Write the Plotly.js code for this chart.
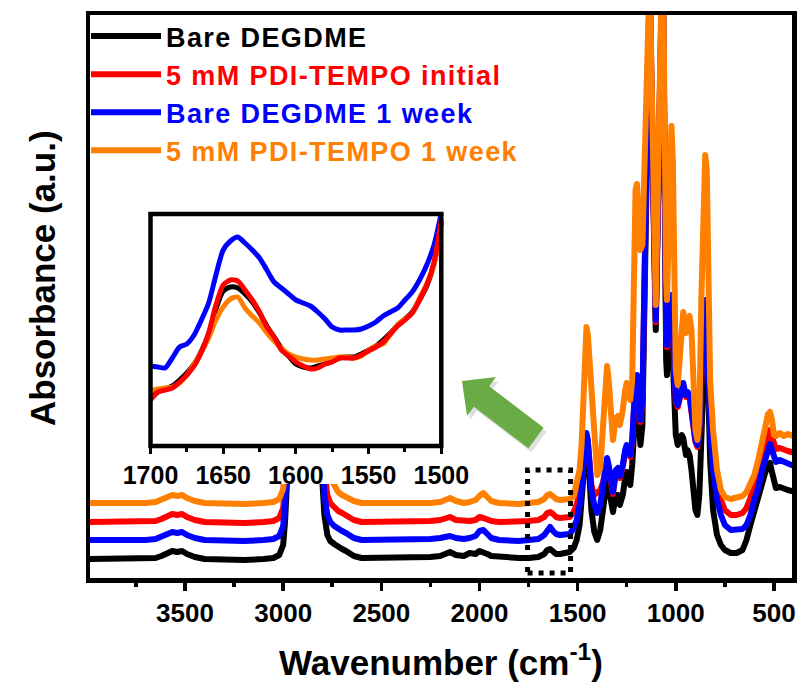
<!DOCTYPE html>
<html>
<head>
<meta charset="utf-8">
<script src="https://cdn.plot.ly/plotly-3.0.1.min.js"></script>
<style>
  html, body { margin: 0; padding: 0; background: #ffffff; }
  #chart { width: 799px; height: 684px; }
  .js-line { stroke-linejoin: round !important; }
  .legendtext { letter-spacing: 1.4px; }
</style>
</head>
<body>
<div id="chart"></div>
<script>
// FTIR spectra (offset for clarity), wavenumber in cm-1
const wavenumber = [
  4000, 3900, 3800, 3700, 3650, 3620, 3590, 3565, 3540, 3515,
  3490, 3450, 3400, 3300, 3200, 3100, 3050, 3020, 3000, 2990,
  2980, 2965, 2950, 2930, 2910, 2890, 2870, 2850, 2830, 2815,
  2800, 2790, 2775, 2760, 2740, 2720, 2700, 2680, 2660, 2640,
  2600, 2500, 2400, 2300, 2250, 2200, 2170, 2150, 2120, 2080,
  2050, 2020, 2000, 1980, 1960, 1940, 1900, 1850, 1800, 1750,
  1700, 1670, 1655, 1640, 1625, 1610, 1590, 1560, 1540, 1520,
  1505, 1490, 1480, 1470, 1462, 1455, 1448, 1440, 1430, 1415,
  1400, 1385, 1370, 1358, 1350, 1342, 1330, 1320, 1305, 1295,
  1285, 1270, 1258, 1250, 1242, 1232, 1222, 1212, 1205, 1198,
  1190, 1180, 1170, 1158, 1133, 1102, 1067, 1049, 1045, 1038,
  1030, 1022, 1015, 1008, 1000, 990, 980, 970, 962, 955,
  948, 940, 930, 920, 910, 900, 890, 880, 870, 860,
  850, 842, 835, 825, 810, 790, 770, 750, 720, 690,
  660, 640, 620, 600, 580, 560, 545, 530, 520, 510,
  500, 490, 470, 450, 430, 410, 400
];

const bareDegdme = [
  0.19, 0.19, 0.19, 0.19, 0.20, 0.22, 0.25, 0.27, 0.26, 0.27,
  0.24, 0.21, 0.19, 0.18, 0.18, 0.19, 0.20, 0.23, 0.33, 0.58,
  0.98, 1.98, 2.78, 2.98, 2.68, 3.08, 3.18, 2.58, 1.98, 1.38,
  0.91, 0.63, 0.43, 0.37, 0.34, 0.31, 0.29, 0.27, 0.24, 0.22,
  0.20, 0.20, 0.20, 0.20, 0.21, 0.22, 0.25, 0.26, 0.23, 0.22,
  0.25, 0.24, 0.27, 0.26, 0.24, 0.22, 0.21, 0.20, 0.20, 0.20,
  0.21, 0.24, 0.28, 0.29, 0.26, 0.24, 0.24, 0.25, 0.26, 0.30,
  0.38, 0.53, 0.73, 1.03, 1.28, 1.38, 1.28, 1.00, 0.68, 0.46,
  0.38, 0.48, 0.73, 0.93, 0.98, 0.91, 0.73, 0.66, 0.83, 0.83,
  0.73, 0.83, 1.00, 1.06, 1.00, 0.93, 1.13, 1.53, 1.73, 1.78,
  1.58, 1.33, 1.53, 2.78, 5.78, 2.48, 6.18, 2.18, 2.03, 2.28,
  2.48, 2.53, 2.18, 1.68, 1.43, 1.33, 1.38, 1.43, 1.40, 1.30,
  1.23, 1.28, 1.23, 1.08, 0.83, 0.68, 0.63, 0.83, 1.38, 2.28,
  2.53, 2.43, 1.88, 1.18, 0.68, 0.43, 0.33, 0.28, 0.25, 0.25,
  0.28, 0.38, 0.53, 0.68, 0.81, 0.93, 1.05, 1.13, 1.15, 1.06,
  0.95, 0.90, 0.91, 0.89, 0.88, 0.87, 0.87
];

const pdiTempoInitial = [
  0.56, 0.56, 0.56, 0.56, 0.57, 0.59, 0.62, 0.64, 0.63, 0.64,
  0.61, 0.58, 0.56, 0.55, 0.55, 0.56, 0.57, 0.60, 0.70, 0.93,
  1.30, 2.20, 2.93, 3.13, 2.90, 3.22, 3.32, 2.80, 2.26, 1.66,
  1.23, 1.03, 0.83, 0.75, 0.70, 0.67, 0.65, 0.63, 0.60, 0.58,
  0.56, 0.56, 0.56, 0.57, 0.57, 0.58, 0.59, 0.61, 0.58, 0.57,
  0.57, 0.58, 0.61, 0.60, 0.58, 0.57, 0.56, 0.56, 0.56, 0.57,
  0.58, 0.61, 0.65, 0.66, 0.64, 0.61, 0.60, 0.60, 0.61, 0.66,
  0.73, 0.86, 1.00, 1.20, 1.38, 1.43, 1.36, 1.11, 0.93, 0.83,
  0.86, 0.88, 0.96, 1.14, 1.18, 1.11, 0.91, 0.84, 1.06, 1.08,
  1.00, 1.11, 1.26, 1.31, 1.26, 1.21, 1.36, 1.76, 1.96, 2.01,
  1.81, 1.56, 1.76, 2.96, 5.96, 2.56, 6.36, 2.46, 2.31, 2.56,
  2.76, 2.81, 2.46, 1.96, 1.76, 1.71, 1.81, 1.91, 1.93, 1.86,
  1.81, 1.84, 1.81, 1.66, 1.46, 1.36, 1.31, 1.46, 1.96, 2.56,
  2.76, 2.66, 2.16, 1.58, 1.23, 0.94, 0.78, 0.68, 0.63, 0.63,
  0.65, 0.70, 0.80, 0.94, 1.06, 1.23, 1.36, 1.46, 1.48, 1.41,
  1.33, 1.29, 1.30, 1.28, 1.27, 1.26, 1.26
];

const bareDegdmeWeek = [
  0.38, 0.38, 0.37, 0.38, 0.39, 0.41, 0.44, 0.46, 0.45, 0.46,
  0.43, 0.40, 0.38, 0.37, 0.37, 0.38, 0.39, 0.42, 0.52, 0.75,
  1.13, 2.13, 2.88, 3.08, 2.83, 3.16, 3.26, 2.73, 2.13, 1.53,
  1.08, 0.83, 0.63, 0.56, 0.52, 0.49, 0.47, 0.45, 0.42, 0.40,
  0.38, 0.38, 0.38, 0.38, 0.39, 0.40, 0.42, 0.42, 0.40, 0.39,
  0.40, 0.42, 0.47, 0.48, 0.44, 0.40, 0.38, 0.37, 0.37, 0.38,
  0.39, 0.43, 0.48, 0.51, 0.47, 0.44, 0.43, 0.43, 0.44, 0.50,
  0.58, 0.73, 0.88, 1.16, 1.38, 1.45, 1.38, 1.13, 0.88, 0.73,
  0.65, 0.73, 0.98, 1.16, 1.20, 1.13, 0.93, 0.86, 1.08, 1.10,
  1.02, 1.13, 1.28, 1.33, 1.28, 1.23, 1.38, 1.78, 1.98, 2.03,
  1.83, 1.58, 1.78, 2.98, 5.98, 2.58, 6.38, 2.48, 2.33, 2.58,
  2.78, 2.83, 2.48, 1.98, 1.78, 1.73, 1.83, 1.93, 1.95, 1.88,
  1.83, 1.86, 1.83, 1.68, 1.48, 1.38, 1.33, 1.48, 1.98, 2.58,
  2.78, 2.68, 2.18, 1.48, 1.08, 0.78, 0.63, 0.53, 0.48, 0.48,
  0.49, 0.53, 0.63, 0.78, 0.90, 1.08, 1.20, 1.31, 1.34, 1.28,
  1.20, 1.16, 1.18, 1.16, 1.15, 1.13, 1.13
];

const pdiTempoWeek = [
  0.75, 0.75, 0.74, 0.75, 0.76, 0.78, 0.81, 0.83, 0.82, 0.83,
  0.80, 0.77, 0.75, 0.74, 0.74, 0.75, 0.76, 0.79, 0.89, 1.13,
  1.48, 2.28, 2.98, 3.18, 2.98, 3.28, 3.38, 2.88, 2.38, 1.78,
  1.48, 1.28, 1.10, 1.00, 0.92, 0.86, 0.83, 0.81, 0.79, 0.77,
  0.75, 0.75, 0.74, 0.74, 0.75, 0.76, 0.78, 0.80, 0.77, 0.75,
  0.76, 0.78, 0.82, 0.85, 0.81, 0.77, 0.75, 0.74, 0.74, 0.75,
  0.76, 0.79, 0.83, 0.84, 0.81, 0.79, 0.78, 0.78, 0.79, 0.82,
  0.98, 1.08, 1.33, 1.88, 2.33, 2.51, 2.43, 2.18, 1.73, 1.28,
  1.03, 1.10, 1.58, 2.03, 2.12, 1.98, 1.58, 1.38, 1.60, 1.62,
  1.53, 1.68, 1.88, 1.95, 1.88, 1.78, 1.98, 3.28, 3.88, 3.94,
  3.68, 3.28, 3.33, 4.28, 6.07, 2.73, 6.53, 2.98, 2.78, 3.28,
  4.38, 4.52, 4.18, 2.78, 2.08, 1.93, 2.28, 2.63, 2.66, 2.53,
  2.45, 2.58, 2.62, 2.48, 1.98, 1.48, 1.38, 1.58, 2.78, 3.88,
  4.23, 4.08, 3.18, 1.98, 1.48, 1.08, 0.88, 0.81, 0.79, 0.80,
  0.82, 0.86, 0.93, 1.03, 1.18, 1.38, 1.53, 1.64, 1.66, 1.58,
  1.43, 1.42, 1.45, 1.42, 1.44, 1.42, 1.42
];

// Enlarged 1700-1500 cm-1 window (no offset)
const insetWavenumber = [
  1700, 1695, 1690, 1685, 1680, 1675, 1670, 1665, 1660, 1655,
  1650, 1645, 1640, 1635, 1630, 1625, 1620, 1615, 1610, 1605,
  1600, 1595, 1590, 1585, 1580, 1575, 1570, 1565, 1560, 1555,
  1550, 1545, 1540, 1535, 1530, 1525, 1520, 1515, 1510, 1505,
  1500
];
const insetBareDegdme = [
  0.46, 0.52, 0.55, 0.58, 0.64, 0.71, 0.80, 0.93, 1.10, 1.35,
  1.53, 1.57, 1.56, 1.50, 1.42, 1.31, 1.18, 1.07, 0.96, 0.88,
  0.80, 0.77, 0.76, 0.78, 0.80, 0.83, 0.86, 0.87, 0.87, 0.90,
  0.94, 0.98, 1.04, 1.11, 1.19, 1.25, 1.32, 1.44, 1.58, 1.80,
  2.22
];
const insetPdiTempoInitial = [
  0.44, 0.52, 0.54, 0.56, 0.62, 0.69, 0.78, 0.92, 1.11, 1.39,
  1.59, 1.64, 1.63, 1.54, 1.44, 1.32, 1.17, 1.07, 0.94, 0.88,
  0.82, 0.78, 0.75, 0.76, 0.80, 0.82, 0.86, 0.86, 0.86, 0.89,
  0.93, 0.97, 1.02, 1.10, 1.18, 1.24, 1.31, 1.44, 1.59, 1.82,
  2.24
];
const insetBareDegdmeWeek = [
  0.78, 0.77, 0.76, 0.86, 0.97, 1.00, 1.09, 1.24, 1.41, 1.69,
  1.94, 2.03, 2.07, 2.01, 1.94, 1.86, 1.74, 1.62, 1.56, 1.50,
  1.44, 1.41, 1.38, 1.32, 1.25, 1.17, 1.14, 1.14, 1.14, 1.15,
  1.18, 1.22, 1.28, 1.32, 1.36, 1.44, 1.52, 1.64, 1.79, 1.99,
  2.31
];
const insetPdiTempoWeek = [
  0.53, 0.55, 0.56, 0.57, 0.61, 0.69, 0.80, 0.92, 1.06, 1.24,
  1.37, 1.45, 1.47, 1.36, 1.28, 1.21, 1.11, 1.03, 0.96, 0.90,
  0.87, 0.85, 0.84, 0.84, 0.85, 0.86, 0.87, 0.87, 0.86, 0.88,
  0.94, 0.98, 1.00, 1.10, 1.19, 1.25, 1.31, 1.46, 1.60, 1.79,
  2.22
];

const seriesNames = ['Bare DEGDME', '5 mM PDI-TEMPO initial', 'Bare DEGDME 1 week', '5 mM PDI-TEMPO 1 week'];
const seriesColors = ['#000000', '#ff0000', '#0000ff', '#ff8000'];
const mainTickVals = [3500, 3000, 2500, 2000, 1500, 1000, 500];
const mainMinorTickVals = [3750, 3250, 2750, 2250, 1750, 1250, 750];
const insetTickVals = [1700, 1650, 1600, 1550, 1500];
const insetMinorTickVals = [1675, 1625, 1575, 1525];

const FONT = 'Liberation Sans, Arial, Helvetica, sans-serif';
const mainSeries = [bareDegdme, pdiTempoInitial, bareDegdmeWeek, pdiTempoWeek];
const insetSeries = [insetBareDegdme, insetPdiTempoInitial, insetBareDegdmeWeek, insetPdiTempoWeek];

const traces = [];
mainSeries.forEach((ys, i) => {
  traces.push({
    type: 'scatter', mode: 'lines',
    x: wavenumber, y: ys,
    name: '<span style="color:' + seriesColors[i] + '">' + seriesNames[i] + '</span>',
    line: { color: seriesColors[i], width: 6 },
    xaxis: 'x', yaxis: 'y',
    hoverinfo: 'skip'
  });
});
// inset draw order: black, orange, blue, red
[0, 3, 2, 1].forEach(i => {
  traces.push({
    type: 'scatter', mode: 'lines',
    x: insetWavenumber, y: insetSeries[i],
    line: { color: seriesColors[i], width: 5, shape: 'spline', smoothing: 0.7 },
    xaxis: 'x2', yaxis: 'y2',
    showlegend: false, hoverinfo: 'skip'
  });
});

// plot-area geometry in pixels (used for paper-space decorations)
const M = { l: 90, r: 7, t: 15, b: 106 };
const W = 799, H = 684;
const PW = W - M.l - M.r, PH = H - M.t - M.b;
const px = (x) => (x - M.l) / PW;
const py = (y) => (H - M.b - y) / PH;
function pathFromPixels(pts) {
  return 'M ' + pts.map(p => px(p[0]).toFixed(5) + ',' + py(p[1]).toFixed(5)).join(' L ') + ' Z';
}
const arrowPts = [[462, 381], [496, 377], [489.1, 386.2], [543.6, 427.7], [528.4, 448.3], [473.9, 406.8], [467, 416]];
const shadowPts = arrowPts.map(p => [p[0] + 3, p[1] + 4]);

const axisFont = { family: FONT, size: 26, color: '#000000', weight: 700 };

const layout = {
  width: W, height: H,
  margin: M,
  paper_bgcolor: '#ffffff',
  plot_bgcolor: '#ffffff',
  showlegend: true,
  legend: {
    x: px(86), y: py(12), xanchor: 'left', yanchor: 'top',
    bgcolor: 'rgba(0,0,0,0)', borderwidth: 0,
    font: { family: FONT, size: 27, color: '#000000', weight: 700 },
    itemwidth: 70, tracegroupgap: 0, traceorder: 'normal'
  },
  xaxis: {
    range: [3984, 408],
    showline: true, mirror: true, linecolor: '#000000', linewidth: 4.5,
    showgrid: false, zeroline: false,
    ticks: 'outside', ticklen: 8, tickwidth: 3.5, tickcolor: '#000000',
    tickmode: 'array', tickvals: mainTickVals,
    tickfont: axisFont,
    minor: { tickmode: 'array', tickvals: mainMinorTickVals, ticks: 'outside', ticklen: 4, tickwidth: 3.5, tickcolor: '#000000', showgrid: false }
  },
  yaxis: {
    range: [0, 5.63],
    showline: true, mirror: true, linecolor: '#000000', linewidth: 4.5,
    showgrid: false, zeroline: false, ticks: '', showticklabels: false
  },
  // enlarged view: its white panel also spans the tick-label band
  xaxis2: {
    domain: [px(116), px(466)], anchor: 'free', position: py(446),
    range: [1723.73, 1483.01],
    showline: false, showgrid: false, zeroline: false,
    ticks: 'outside', ticklen: 7, tickwidth: 3, tickcolor: '#000000',
    tickmode: 'array', tickvals: insetTickVals,
    tickfont: { family: FONT, size: 25, color: '#000000', weight: 700 },
    minor: { tickmode: 'array', tickvals: insetMinorTickVals, ticks: 'outside', ticklen: 5, tickwidth: 3, tickcolor: '#000000', showgrid: false }
  },
  yaxis2: {
    domain: [py(484), py(203)], anchor: 'x2',
    range: [-0.40, 2.41],
    showline: false, showgrid: false, zeroline: false, ticks: '', showticklabels: false
  },
  annotations: [
    {
      xref: 'paper', yref: 'paper', x: px(441), y: py(660),
      xanchor: 'center', yanchor: 'middle', showarrow: false,
      text: 'Wavenumber (cm<sup>-1</sup>)',
      font: { family: FONT, size: 35, color: '#000000', weight: 700 }
    },
    {
      xref: 'paper', yref: 'paper', x: px(42), y: py(278),
      xanchor: 'center', yanchor: 'middle', showarrow: false, textangle: -90,
      text: 'Absorbance (a.u.)',
      font: { family: FONT, size: 35, color: '#000000', weight: 700 }
    }
  ],
  shapes: [
    {
      // frame of the enlarged view
      type: 'rect', xref: 'x2', yref: 'y2', x0: 1700, x1: 1500, y0: -0.02, y1: 2.30,
      line: { color: '#000000', width: 4.5 }, fillcolor: 'rgba(0,0,0,0)', layer: 'above'
    },
    {
      type: 'rect', xref: 'x', yref: 'y', x0: 1755, x1: 1536, y0: 0.05, y1: 1.08,
      line: { color: '#000000', width: 5, dash: '5px,6px' }, fillcolor: 'rgba(0,0,0,0)', layer: 'above'
    },
    {
      type: 'path', xref: 'paper', yref: 'paper', path: pathFromPixels(shadowPts),
      fillcolor: 'rgba(80,80,80,0.18)', line: { width: 0 }, layer: 'above'
    },
    {
      type: 'path', xref: 'paper', yref: 'paper', path: pathFromPixels(arrowPts),
      fillcolor: '#6aab45', line: { width: 0 }, layer: 'above'
    }
  ]
};

Plotly.newPlot('chart', traces, layout, { displayModeBar: false, staticPlot: true });
</script>
</body>
</html>
